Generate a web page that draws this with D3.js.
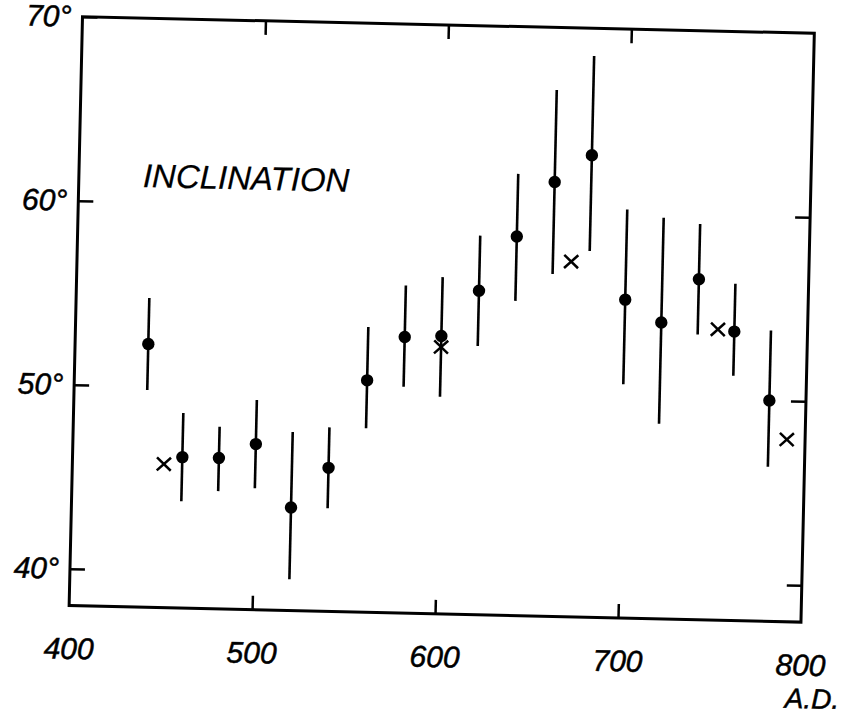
<!DOCTYPE html>
<html>
<head>
<meta charset="utf-8">
<script src="https://cdn.jsdelivr.net/npm/d3@7"></script>
<style>
  body { margin: 0; background: #fff; }
  text { font-family: "Liberation Sans", Arial, sans-serif; font-style: italic; fill: #000; stroke: #000; stroke-width: 0.5px; }
</style>
</head>
<body>
<svg id="chart"></svg>
<script>
// inclination readings, 20-year steps
var years = [440, 460, 480, 500, 520, 540, 560, 580, 600, 620, 640, 660, 680, 700, 720, 740, 760, 780];
var inclination = [52.3, 46.2, 46.2, 47.0, 43.6, 45.8, 50.6, 53.0, 53.1, 55.6, 58.6, 61.6, 63.1, 55.3, 54.1, 56.5, 53.7, 50.0];
var errHigh = [54.8, 48.6, 47.9, 49.4, 47.7, 48.0, 53.5, 55.8, 56.3, 58.6, 62.0, 66.6, 68.5, 60.2, 59.8, 59.5, 56.3, 53.8];
var errLow = [49.8, 43.8, 44.4, 44.6, 39.7, 43.6, 48.0, 50.3, 49.8, 52.6, 55.1, 56.6, 57.9, 50.7, 48.6, 53.5, 51.3, 46.4];

// single "x" readings
var crossYears = [450, 600, 670, 751, 790];
var crossValues = [45.8, 52.5, 57.3, 53.8, 47.9];

var xTicks = [400, 500, 600, 700, 800];
var yTicks = [40, 50, 60, 70];

var width = 842, height = 719;
var W = 732, H = 589;
var ink = "#000";

var svg = d3.select("#chart")
    .attr("width", width)
    .attr("height", height);

svg.append("rect").attr("width", width).attr("height", height).attr("fill", "#fff");

// the scanned figure sits slightly tilted
var g = svg.append("g").attr("transform", "translate(82.5,16.7) rotate(1.3)");

var x = d3.scaleLinear().domain([400, 800]).range([0, W]);
var y = d3.scaleLinear().domain([38, 70]).range([H, 0]);

//bottom axis with labels, ticks pointing in
var xAxis = g.append("g")
    .attr("transform", "translate(0," + H + ")")
    .call(d3.axisBottom(x).tickValues(xTicks).tickSize(-14).tickPadding(32).tickFormat(d3.format("d")));

var xTop = g.append("g")
    .call(d3.axisTop(x).tickValues([500, 600, 700]).tickSize(-14).tickFormat(""));

var yAxis = g.append("g")
    .call(d3.axisLeft(y).tickValues(yTicks).tickSize(-15).tickPadding(11).tickFormat(function(d) { return d + "°"; }));

var yRight = g.append("g")
    .attr("transform", "translate(" + W + ",0)")
    .call(d3.axisRight(y).tickValues([40, 50, 60]).tickSize(-15).tickFormat(""));

[xAxis, xTop, yAxis, yRight].forEach(function(a) {
    a.select(".domain").remove();
    a.selectAll("line").attr("stroke", ink).attr("stroke-width", 2.5);
    a.selectAll("text").style("font-size", "30px").attr("fill", ink);
});
// no tick marks in the corners
xAxis.selectAll("line").filter(function(d) { return d == 400 || d == 800; }).remove();

// frame
g.append("rect")
    .attr("x", 0).attr("y", 0)
    .attr("width", W).attr("height", H)
    .attr("fill", "none")
    .attr("stroke", ink)
    .attr("stroke-width", 3);

g.append("text")
    .attr("x", W + 40)
    .attr("y", H + 86)
    .attr("text-anchor", "end")
    .style("font-size", "28px")
    .text("A.D.");

g.append("text")
    .attr("x", 64)
    .attr("y", 169)
    .style("font-size", "33px")
    .style("stroke-width", "0.2px")
    .text("INCLINATION");

//error bars
g.selectAll(".err")
    .data(years)
    .enter().append("line")
    .attr("class", "err")
    .attr("x1", function(d) { return x(d); })
    .attr("x2", function(d) { return x(d); })
    .attr("y1", function(d, i) { return y(errHigh[i]); })
    .attr("y2", function(d, i) { return y(errLow[i]); })
    .attr("stroke", ink)
    .attr("stroke-width", 2.6);

//crosses go under the dots
var cross = g.selectAll(".cross")
    .data(crossYears)
    .enter().append("g")
    .attr("class", "cross")
    .attr("transform", function(d, i) { return "translate(" + x(d) + "," + y(crossValues[i]) + ")"; });
cross.append("line").attr("x1", -7).attr("y1", -6.5).attr("x2", 7).attr("y2", 6.5);
cross.append("line").attr("x1", -7).attr("y1", 6.5).attr("x2", 7).attr("y2", -6.5);
cross.selectAll("line").attr("stroke", ink).attr("stroke-width", 2.5);

g.selectAll(".dot")
    .data(years)
    .enter().append("circle")
    .attr("class", "dot")
    .attr("cx", function(d) { return x(d); })
    .attr("cy", function(d, i) { return y(inclination[i]); })
    .attr("r", 6.2)
    .attr("fill", ink);
</script>
</body>
</html>
